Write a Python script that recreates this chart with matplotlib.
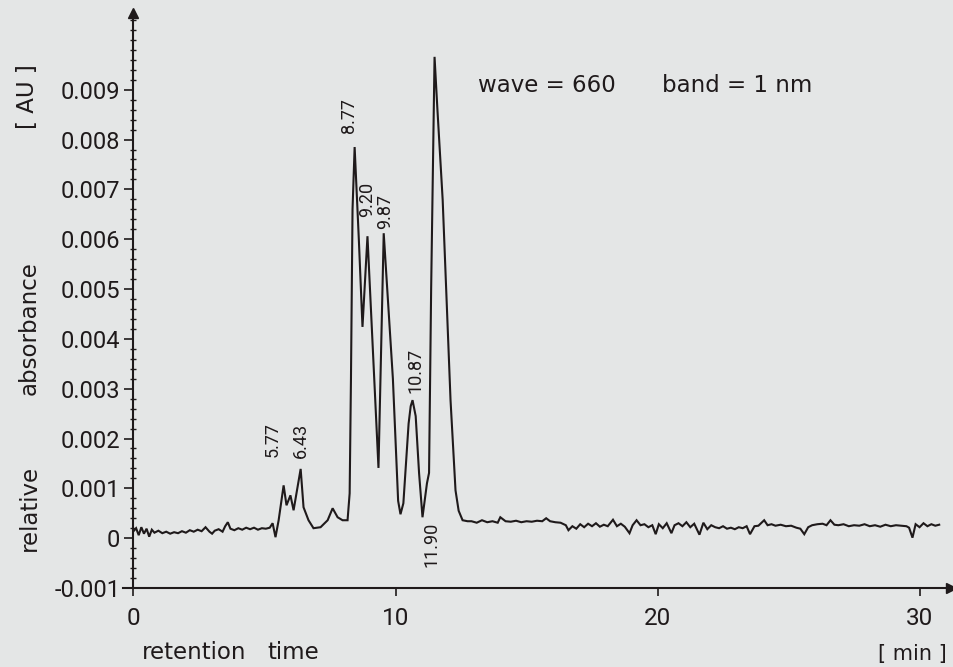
import matplotlib
matplotlib.use('Agg')
import matplotlib.pyplot as plt
from matplotlib.ticker import MultipleLocator

# Chromatogram trace (time in min, absorbance in 1e-3 AU)
retention_min = [
    0.0, 0.1, 0.2, 0.3, 0.4, 0.5, 0.6, 0.7, 0.8, 0.95, 1.1, 1.25, 1.4, 1.55,
    1.7, 1.85, 2.0, 2.15, 2.3, 2.45, 2.6, 2.75, 2.9, 3.0, 3.1, 3.25, 3.4, 3.5,
    3.6, 3.7, 3.85, 4.0, 4.15, 4.3, 4.45, 4.6, 4.75, 4.9, 5.05, 5.2, 5.31,
    5.42, 5.54, 5.73, 5.84, 5.99, 6.11, 6.38, 6.49, 6.68, 6.87, 7.14, 7.41,
    7.6, 7.79, 7.98, 8.17, 8.25, 8.3, 8.36, 8.44, 8.6, 8.74, 8.93, 9.15, 9.35,
    9.55, 9.9, 10.1, 10.19, 10.3, 10.4, 10.5, 10.58, 10.65, 10.77, 10.9, 11.03,
    11.2, 11.28, 11.36, 11.49, 11.6, 11.8, 12.1, 12.29, 12.41, 12.56, 12.75,
    12.9, 13.1, 13.3, 13.5, 13.7, 13.9, 14.0, 14.2, 14.4, 14.6, 14.8, 15.0,
    15.2, 15.4, 15.6, 15.75, 15.9, 16.1, 16.3, 16.5, 16.6, 16.75, 16.9, 17.05,
    17.2, 17.35, 17.5, 17.65, 17.8, 17.95, 18.1, 18.3, 18.45, 18.6, 18.75,
    18.93, 19.05, 19.2, 19.35, 19.5, 19.65, 19.8, 19.93, 20.05, 20.2, 20.35,
    20.53, 20.65, 20.8, 20.95, 21.1, 21.25, 21.4, 21.6, 21.75, 21.9, 22.05,
    22.2, 22.35, 22.5, 22.65, 22.8, 22.95, 23.1, 23.25, 23.4, 23.53, 23.7,
    23.85, 24.07, 24.2, 24.35, 24.5, 24.7, 24.9, 25.1, 25.3, 25.45, 25.6,
    25.75, 25.9, 26.1, 26.3, 26.45, 26.6, 26.75, 26.9, 27.1, 27.3, 27.5, 27.7,
    27.9, 28.1, 28.3, 28.5, 28.7, 28.9, 29.1, 29.3, 29.5, 29.6, 29.73, 29.85,
    30.0, 30.15, 30.3, 30.45, 30.6, 30.75,
]
absorbance_mau = [
    0.14, 0.2, 0.06, 0.22, 0.09, 0.19, 0.03, 0.17, 0.11, 0.15, 0.1, 0.13,
    0.09, 0.12, 0.1, 0.14, 0.11, 0.16, 0.13, 0.17, 0.14, 0.22, 0.13, 0.09,
    0.15, 0.18, 0.13, 0.24, 0.32, 0.19, 0.16, 0.2, 0.17, 0.21, 0.18, 0.21,
    0.17, 0.2, 0.19, 0.21, 0.3,
    0.02, 0.36, 1.06, 0.66, 0.86, 0.56, 1.39, 0.62, 0.36, 0.2, 0.22, 0.36,
    0.6, 0.42, 0.36, 0.36, 0.9, 3.2, 6.6, 7.85, 6.0, 4.24, 6.06, 3.6, 1.41,
    6.12, 3.2, 0.75, 0.48, 0.7, 1.5, 2.3, 2.65, 2.77, 2.45, 1.3, 0.42,
    1.1, 1.31, 5.0, 9.66, 8.6, 6.79, 2.77, 0.96, 0.55, 0.36, 0.34,
    0.34, 0.31, 0.36, 0.32, 0.34, 0.31, 0.42, 0.34, 0.33, 0.35, 0.32, 0.34,
    0.33, 0.35, 0.34, 0.4, 0.34, 0.32, 0.31, 0.26, 0.16, 0.24, 0.19, 0.28,
    0.22, 0.29, 0.24, 0.3, 0.23, 0.27, 0.24, 0.37, 0.24, 0.29, 0.23,
    0.1, 0.26, 0.36, 0.26, 0.28, 0.22, 0.26, 0.08, 0.28, 0.2, 0.3,
    0.1, 0.26, 0.3, 0.24, 0.32, 0.22, 0.29, 0.07, 0.31, 0.18, 0.26,
    0.22, 0.2, 0.24, 0.19, 0.21, 0.18, 0.22, 0.2, 0.24, 0.08, 0.24,
    0.25, 0.36, 0.26, 0.28, 0.25, 0.27, 0.24, 0.25, 0.21, 0.19, 0.08,
    0.22, 0.26, 0.28, 0.29, 0.26, 0.36, 0.27, 0.26, 0.28, 0.24, 0.26, 0.25,
    0.28, 0.24, 0.26, 0.23, 0.27, 0.24, 0.26, 0.25, 0.24, 0.21, 0.01, 0.28,
    0.22, 0.3, 0.24, 0.28, 0.25, 0.27,
]

# Peak annotations (retention times as printed on the chart)
peak_labels = ['5.77', '6.43', '8.77', '9.20', '9.87', '10.87', '11.90']
label_anchor_x = [5.31, 6.38, 8.21, 8.93, 9.62, 10.77, 11.38]
label_anchor_y = [0.00163, 0.00161, 0.00813, 0.00645, 0.00620, 0.00291, -0.00058]

y_ticks = [-0.001, 0, 0.001, 0.002, 0.003, 0.004, 0.005, 0.006, 0.007, 0.008, 0.009]
y_tick_labels = ['-0.001', '0', '0.001', '0.002', '0.003', '0.004', '0.005',
                 '0.006', '0.007', '0.008', '0.009']
x_ticks = [0, 10, 20, 30]

ink = '#1f1a1b'
paper = '#e4e6e6'

plt.rcParams['font.family'] = ['Roboto', 'DejaVu Sans']
plt.rcParams['text.color'] = ink

fig = plt.figure(figsize=(9.54, 6.67), dpi=100, facecolor=paper)
ax = fig.add_axes([123 / 954, (667 - 588) / 667, 828 / 954, 575 / 667])
ax.set_facecolor(paper)

absorbance = [v * 1e-3 for v in absorbance_mau]
ax.plot(retention_min, absorbance, color=ink, lw=1.5, solid_joinstyle='miter')

ax.set_xlim(-0.4, 31.2)
ax.set_ylim(-0.001, 0.01054)

# Axis lines with arrow heads
for side in ['top', 'right']:
    ax.spines[side].set_visible(False)
ax.spines['left'].set_position(('data', 0))
for side in ['left', 'bottom']:
    ax.spines[side].set_color(ink)
    ax.spines[side].set_linewidth(1.5)
ax.plot(1, -0.001, marker='>', ms=7, color=ink, transform=ax.get_yaxis_transform(),
        clip_on=False)
ax.plot(0, 1, marker='^', ms=7, color=ink, transform=ax.get_xaxis_transform(),
        clip_on=False)

ax.set_yticks(y_ticks)
ax.set_yticklabels(y_tick_labels)
ax.yaxis.set_minor_locator(MultipleLocator(0.0002))
ax.set_xticks(x_ticks)
ax.tick_params(axis='y', which='major', direction='out', length=6.5, width=1.2,
               color=ink, labelsize=17, pad=3, labelcolor=ink)
ax.tick_params(axis='y', which='minor', direction='inout', length=4, width=1,
               color=ink)
ax.tick_params(axis='x', which='major', direction='out', length=6, width=1.2,
               color=ink, labelsize=17.5, pad=8, labelcolor=ink)

# Peak retention times, written vertically
for txt, px, py in zip(peak_labels, label_anchor_x, label_anchor_y):
    ax.text(px, py, txt, rotation=90, ha='center', va='bottom', fontsize=13,
            color=ink)

word = ['DejaVu Sans']
fig.text(0.501, 0.872, 'wave = 660', ha='left', va='center', fontsize=16.5,
         family=word)
fig.text(0.694, 0.872, 'band = 1 nm', ha='left', va='center', fontsize=16.5,
         family=word)

# Axis titles split into pieces to keep the wide spacing of the original
fig.text(0.031, 0.238, 'relative', rotation=90, ha='center', va='center',
         fontsize=16.5, family=word)
fig.text(0.031, 0.508, 'absorbance', rotation=90, ha='center', va='center',
         fontsize=16.5, family=word)
fig.text(0.029, 0.855, '[ AU ]', rotation=90, ha='center', va='center',
         fontsize=16.5, family=word)
fig.text(0.203, 0.021, 'retention', ha='center', va='center', fontsize=16.5,
         family=word)
fig.text(0.307, 0.021, 'time', ha='center', va='center', fontsize=16.5,
         family=word)
fig.text(0.956, 0.019, '[ min ]', ha='center', va='center', fontsize=15,
         family=word)

fig.savefig('out.png', dpi=100, facecolor=paper)
